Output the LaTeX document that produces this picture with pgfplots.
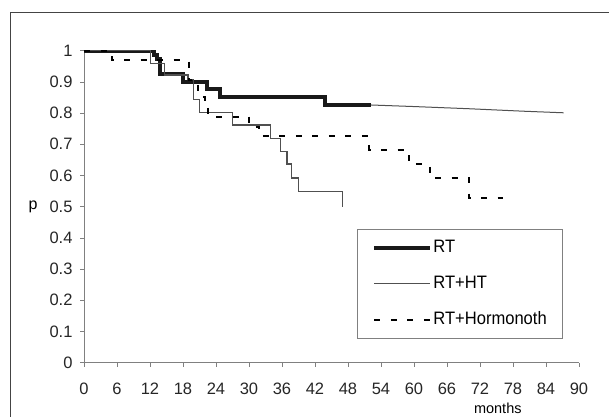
\documentclass[border=0pt]{standalone}
\usepackage{fontspec}
\setmainfont{Liberation Sans}
\newfontfamily\legfont[FakeStretch=0.92]{Liberation Sans}
\usepackage{pgfplots}
\pgfplotsset{compat=1.18}
\definecolor{axgray}{HTML}{808080}
\definecolor{framegray}{HTML}{444444}
\definecolor{htgray}{HTML}{505050}
\begin{document}
\begin{tikzpicture}[x=1pt,y=1pt]
\useasboundingbox (0,0) rectangle (609,416);
\draw[framegray, line width=1.6pt] (10.5,-30) rectangle (660,403.3);
\begin{axis}[
  at={(84pt,53.3pt)}, anchor=south west,
  scale only axis, width=495pt, height=312pt,
  xmin=0, xmax=90, ymin=0, ymax=1,
  axis x line*=bottom, axis y line*=left,
  axis line style={axgray, line width=0.8pt},
  tick style={axgray, line width=0.8pt},
  tick align=outside, major tick length=4pt,
  xtick={0,6,...,90},
  ytick={0,0.1,0.2,0.3,0.4,0.5,0.6,0.7,0.8,0.9,1},
  yticklabels={0,0.1,0.2,0.3,0.4,0.5,0.6,0.7,0.8,0.9,1},
  /pgf/number format/assume math mode=true,
  ticklabel style={font=\fontsize{16.5}{16.5}\selectfont, text=black!85},
  xticklabel style={yshift=-13pt},
  yticklabel style={xshift=-4pt},
  xlabel={months},
  xlabel style={at={(axis description cs:0.836,-0.145)}, anchor=center, font=\fontsize{14.5}{14.5}\selectfont},
  ylabel={p},
  ylabel style={at={(axis description cs:-0.103,0.5)}, anchor=center, rotate=-90, font=\fontsize{16}{16}\selectfont},
  legend style={at={(axis description cs:0.5515,0.4285)}, anchor=north west,
    draw=axgray, line width=0.8pt, inner xsep=15pt, inner ysep=9pt,
    row sep=17pt, font=\legfont\fontsize{18}{18}\selectfont,
    nodes={inner sep=1pt, text height=13pt, text depth=4pt}},
  legend cell align=left,
  legend image code/.code={\draw[#1] (0pt,0pt) -- (56pt,0pt);},
]
\addplot[const plot, black!90, line width=4pt] coordinates {
 (0,1) (12.8,0.985) (13.3,0.972) (13.8,0.925) (18,0.900) (22.3,0.878)
 (24.7,0.852) (43.9,0.826) (52.2,0.826)};
\addlegendentry{RT}
\addplot[const plot, htgray, line width=1.1pt] coordinates {
 (0,1) (12.1,0.960) (14.7,0.922) (18.9,0.908) (19.9,0.845) (21.0,0.802)
 (27.0,0.762) (33.9,0.718) (35.8,0.677) (36.9,0.637) (37.8,0.592)
 (39.0,0.549) (47.0,0.549) (47.0,0.500)};
\addlegendentry{RT+HT}
\addplot[const plot, black, line width=2pt, dash pattern=on 6pt off 10.5pt] coordinates {
 (0,1) (5.0,0.970) (19.0,0.905) (20.8,0.852) (22.0,0.822) (22.6,0.789)
 (30.0,0.757) (31.8,0.727) (51.9,0.683) (59.0,0.636) (62.9,0.592)
 (70.0,0.528) (76.2,0.528)};
\addlegendentry{RT+Hormonoth}
\addplot[htgray, line width=1pt, forget plot] coordinates {
 (52.2,0.826) (60,0.821) (70,0.814) (80,0.806) (87.2,0.801)};
\end{axis}
\end{tikzpicture}
\end{document}
